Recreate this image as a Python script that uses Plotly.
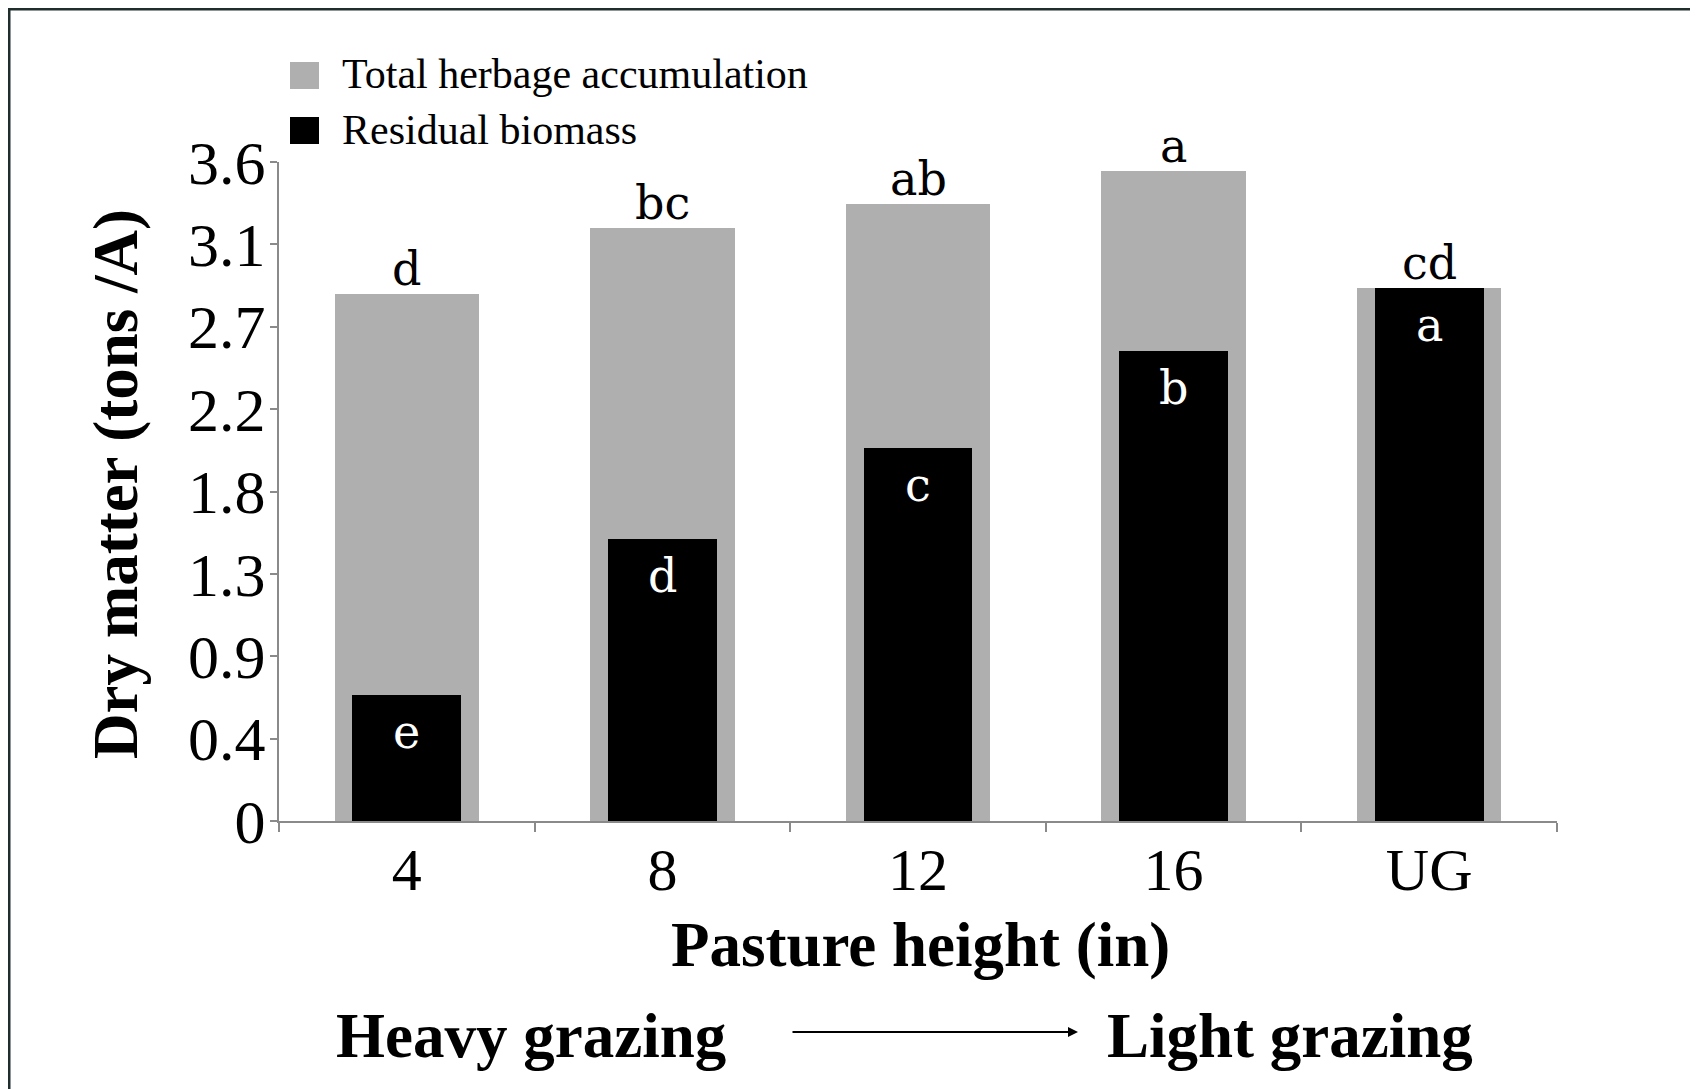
import plotly.graph_objects as go

# data
heights = ["4", "8", "12", "16", "UG"]
total_herbage = [2.88, 3.24, 3.37, 3.55, 2.91]
residual_biomass = [0.69, 1.54, 2.04, 2.57, 2.91]
total_letters = ["d", "bc", "ab", "a", "cd"]
residual_letters = ["e", "d", "c", "b", "a"]
series_names = ["Total herbage accumulation", "Residual biomass"]
y_tickvals = [0, 0.45, 0.9, 1.35, 1.8, 2.25, 2.7, 3.15, 3.6]
y_ticktext = ["0", "0.4", "0.9", "1.3", "1.8", "2.2", "2.7", "3.1", "3.6"]

# the page body has an 8px margin, so the figure sits at (8, 8)
OFF = 8
W, H = 1698 - OFF, 1089 - OFF
# plot area in page pixels: x 279..1557, y 162..821
L, T = 279 - OFF, 162 - OFF
R, B = W - (1557 - OFF), H - (821 - OFF)
PW, PH = W - L - R, H - T - B

GRAY = "#afafaf"
AXIS = "#8a8a8a"
SERIF = "Liberation Serif, Times New Roman, serif"
LETTER_FONT = "DejaVu Serif, serif"


def px(x):
    # page pixel -> paper x
    return (x - OFF - L) / PW


def py(y):
    # page pixel -> paper y
    return (H - B - (y - OFF)) / PH


fig = go.Figure()
fig.add_trace(go.Bar(x=heights, y=total_herbage, name=series_names[0],
                     marker=dict(color=GRAY, line=dict(width=0)), width=0.565,
                     showlegend=False))
fig.add_trace(go.Bar(x=heights, y=residual_biomass, name=series_names[1],
                     marker=dict(color="black", line=dict(width=0)), width=0.425,
                     showlegend=False))

annotations = []
# letters go by category index, since "4" would be read as index 4
for i, (v, t) in enumerate(zip(total_herbage, total_letters)):
    annotations.append(dict(x=i, y=v, text=t, showarrow=False, xanchor="center", yanchor="bottom",
                            yshift=-4, font=dict(family=LETTER_FONT, size=46, color="black")))
for i, (v, t) in enumerate(zip(residual_biomass, residual_letters)):
    annotations.append(dict(x=i, y=v, text=t, showarrow=False, xanchor="center", yanchor="top",
                            yshift=-8, font=dict(family=LETTER_FONT, size=46, color="white")))


def label(x, y, text, size=63, angle=0):
    return dict(xref="paper", yref="paper", x=px(x), y=py(y), text=text, textangle=angle,
                xanchor="center", yanchor="middle", showarrow=False,
                font=dict(family=SERIF, size=size, color="black"))


# axis titles and grazing note
annotations += [
    label(116, 484, "<b>Dry matter (tons /A)</b>", angle=-90),
    label(920, 945, "<b>Pasture height (in)</b>"),
    label(531, 1036, "<b>Heavy grazing</b>"),
    label(1290, 1036, "<b>Light grazing</b>"),
    dict(xref="paper", yref="paper", x=px(1078), y=py(1032), ax=-287, ay=0, text="",
         showarrow=True, arrowhead=2, arrowsize=1, arrowwidth=2, arrowcolor="black"),
]

# legend drawn by hand so the squares can be as large as in the original
legend_rows = [(GRAY, 62, 89, 74), ("black", 117, 144, 130)]
shapes = [
    dict(type="rect", xref="paper", yref="paper", x0=px(OFF + 1), x1=px(1720), y0=py(1110),
         y1=py(OFF + 1), fillcolor="white", line=dict(color="#1f2d2d", width=3), layer="below"),
]
for (color, top, bottom, mid), name in zip(legend_rows, series_names):
    shapes.append(dict(type="rect", xref="paper", yref="paper", x0=px(290), x1=px(319),
                       y0=py(bottom), y1=py(top), fillcolor=color, line=dict(width=0)))
    annotations.append(dict(xref="paper", yref="paper", x=px(340), y=py(mid), text=name,
                            xanchor="left", yanchor="middle", showarrow=False,
                            font=dict(family=SERIF, size=42, color="black")))

fig.update_layout(
    width=W, height=H,
    margin=dict(l=L, r=R, t=T, b=B),
    paper_bgcolor="#ebebe6",
    plot_bgcolor="white",
    barmode="overlay",
    bargap=0,
    annotations=annotations,
    shapes=shapes,
    showlegend=False,
)
fig.update_xaxes(
    range=[-0.5, 4.5], showgrid=False, showline=True, linecolor=AXIS, linewidth=2,
    ticks="outside", tickson="boundaries", ticklen=9, tickcolor=AXIS, tickwidth=1.5,
    tickfont=dict(family=SERIF, size=60, color="black"), ticklabelstandoff=-5,
    automargin=False,
)
fig.update_yaxes(
    range=[0, 3.6], tickvals=y_tickvals, ticktext=y_ticktext, showgrid=False, zeroline=False,
    showline=True, linecolor=AXIS, linewidth=2, ticks="outside", ticklen=7, tickcolor=AXIS,
    tickwidth=1.5, tickfont=dict(family=SERIF, size=62, color="black"), ticklabelstandoff=-8,
    automargin=False,
)

fig.write_html("out.html")
